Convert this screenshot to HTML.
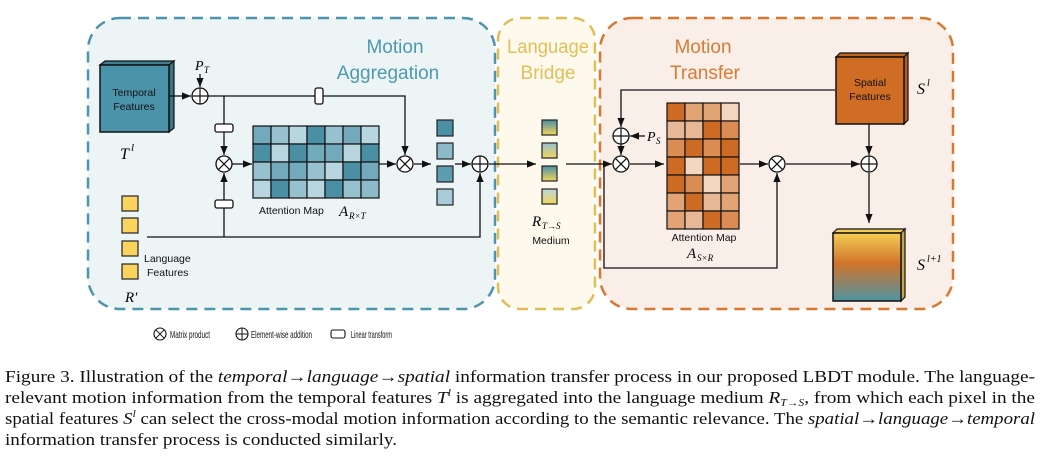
<!DOCTYPE html>
<html><head><meta charset="utf-8"><style>
body{margin:0;background:#fff;width:1043px;height:457px;overflow:hidden}
svg text{font-family:"Liberation Sans",sans-serif}
svg text.s,svg .s{font-family:"Liberation Serif",serif;font-style:italic}
svg .c text,svg .c tspan{font-family:"Liberation Serif",serif}
</style></head><body>
<svg width="1043" height="457" viewBox="0 0 1043 457" xmlns="http://www.w3.org/2000/svg">
<defs>
<marker id="a" viewBox="0 0 10 10" refX="10" refY="5" markerWidth="7" markerHeight="7" orient="auto"><path d="M0,1 L10,5 L0,9z" fill="#111"/></marker>
<linearGradient id="gm1" x1="0" y1="0" x2="0" y2="1"><stop offset="0" stop-color="#4a8fa3"/><stop offset="1" stop-color="#f3d55c"/></linearGradient>
<linearGradient id="gm2" x1="0" y1="0" x2="0" y2="1"><stop offset="0" stop-color="#97c1cf"/><stop offset="1" stop-color="#f3d55c"/></linearGradient>
<linearGradient id="gm3" x1="0" y1="0" x2="0" y2="1"><stop offset="0" stop-color="#4a8fa3"/><stop offset="1" stop-color="#f3d55c"/></linearGradient>
<linearGradient id="gm4" x1="0" y1="0" x2="0" y2="1"><stop offset="0" stop-color="#b7d6df"/><stop offset="1" stop-color="#f3d55c"/></linearGradient>
<linearGradient id="go" x1="0" y1="0" x2="0" y2="1"><stop offset="0" stop-color="#f5cd55"/><stop offset="0.45" stop-color="#d0732b"/><stop offset="1" stop-color="#4f94a3"/></linearGradient>
</defs>
<rect x="88" y="18" width="407" height="291" rx="32" fill="#edf4f6" stroke="#4c95ad" stroke-width="2.5" stroke-dasharray="11,7"/>
<rect x="498" y="18" width="97" height="291" rx="22" fill="#fdf9ec" stroke="#e1bd55" stroke-width="2.5" stroke-dasharray="11,7"/>
<rect x="600" y="18" width="353" height="291" rx="32" fill="#f9efe8" stroke="#d8772f" stroke-width="2.5" stroke-dasharray="11,7"/>
<text x="395" y="53" font-size="19" fill="#4c9ab0" text-anchor="middle">Motion</text>
<text x="388" y="79" font-size="19" fill="#4c9ab0" text-anchor="middle">Aggregation</text>
<text x="548" y="53" font-size="19" fill="#e2bf57" text-anchor="middle" textLength="82" lengthAdjust="spacingAndGlyphs">Language</text>
<text x="548" y="79" font-size="19" fill="#e2bf57" text-anchor="middle">Bridge</text>
<text x="703" y="53" font-size="19" fill="#da7a33" text-anchor="middle">Motion</text>
<text x="705" y="79" font-size="19" fill="#da7a33" text-anchor="middle">Transfer</text>
<path d="M100,65 L105,61 L174,61 L169,65z" fill="#3f7f92" stroke="#111" stroke-width="1.2"/>
<path d="M169,65 L174,61 L174,128 L169,132z" fill="#3a7486" stroke="#111" stroke-width="1.2"/>
<rect x="100" y="65" width="69" height="67" fill="#4b93a8" stroke="#111" stroke-width="1.5"/>
<text x="134" y="96" font-size="10.5" text-anchor="middle" fill="#111">Temporal</text>
<text x="134" y="110" font-size="10.5" text-anchor="middle" fill="#111">Features</text>
<text x="120" y="159" class="s" font-size="16">T</text><text x="131" y="151" class="s" font-size="11">l</text>
<g stroke="#111" stroke-width="1.3" fill="none">
<line x1="169" y1="96" x2="191" y2="96" marker-end="url(#a)"/>
<line x1="200" y1="74" x2="200" y2="87" marker-end="url(#a)"/>
<polyline points="208,96 405,96 405,155" marker-end="url(#a)"/>
<line x1="224" y1="96" x2="224" y2="155" marker-end="url(#a)"/>
<line x1="224" y1="237" x2="224" y2="173" marker-end="url(#a)"/>
<line x1="232" y1="164" x2="252" y2="164" marker-end="url(#a)"/>
<line x1="379" y1="164" x2="396" y2="164" marker-end="url(#a)"/>
<line x1="414" y1="164" x2="431" y2="164" marker-end="url(#a)"/>
<line x1="455" y1="164" x2="471" y2="164" marker-end="url(#a)"/>
<polyline points="147,237 480,237 480,173" marker-end="url(#a)"/>
<line x1="489" y1="164" x2="536" y2="164" marker-end="url(#a)"/>
<line x1="566" y1="164" x2="612" y2="164" marker-end="url(#a)"/>
<polyline points="835,90 621,90 621,127" marker-end="url(#a)"/>
<line x1="645" y1="136" x2="630" y2="136" marker-end="url(#a)"/>
<line x1="621" y1="144" x2="621" y2="155" marker-end="url(#a)"/>
<line x1="630" y1="164" x2="664" y2="164" marker-end="url(#a)"/>
<line x1="740" y1="164" x2="768" y2="164" marker-end="url(#a)"/>
<polyline points="604,164 604,268 777,268 777,173" marker-end="url(#a)"/>
<line x1="786" y1="164" x2="860" y2="164" marker-end="url(#a)"/>
<line x1="869" y1="124" x2="869" y2="155" marker-end="url(#a)"/>
<line x1="869" y1="173" x2="869" y2="223" marker-end="url(#a)"/>
</g>
<g fill="#fff" stroke="#111" stroke-width="1.3">
<rect x="315" y="88" width="8" height="16" rx="2"/>
<rect x="215" y="124" width="18" height="8" rx="2"/>
<rect x="215" y="200" width="18" height="8" rx="2"/>
</g>
<g fill="#fff" stroke="#111" stroke-width="1.3">
<circle cx="200" cy="96" r="8"/><circle cx="224" cy="164" r="8"/><circle cx="405" cy="164" r="8"/><circle cx="480" cy="164" r="8"/>
<circle cx="621" cy="136" r="8"/><circle cx="621" cy="164" r="8"/><circle cx="777" cy="164" r="8"/><circle cx="869" cy="164" r="8"/>
</g>
<g stroke="#111" stroke-width="1.2">
<path d="M192,96h16M200,88v16"/><path d="M472,164h16M480,156v16"/><path d="M613,136h16M621,128v16"/><path d="M861,164h16M869,156v16"/>
<path d="M218.3,158.3l11.4,11.4M229.7,158.3l-11.4,11.4"/>
<path d="M399.3,158.3l11.4,11.4M410.7,158.3l-11.4,11.4"/>
<path d="M615.3,158.3l11.4,11.4M626.7,158.3l-11.4,11.4"/>
<path d="M771.3,158.3l11.4,11.4M782.7,158.3l-11.4,11.4"/>
</g>
<text x="195" y="70" class="s" font-size="14">P</text><text x="204" y="73" class="s" font-size="9">T</text>
<text x="647" y="141" class="s" font-size="14">P</text><text x="656" y="144" class="s" font-size="9">S</text>
<g stroke="#111" stroke-width="1.2">
<rect x="253" y="126" width="18" height="18" fill="#72aabb"/><rect x="271" y="126" width="18" height="18" fill="#97c1cf"/><rect x="289" y="126" width="18" height="18" fill="#b7d6df"/><rect x="307" y="126" width="18" height="18" fill="#4a8fa3"/><rect x="325" y="126" width="18" height="18" fill="#97c1cf"/><rect x="343" y="126" width="18" height="18" fill="#72aabb"/><rect x="361" y="126" width="18" height="18" fill="#b7d6df"/>
<rect x="253" y="144" width="18" height="18" fill="#4a8fa3"/><rect x="271" y="144" width="18" height="18" fill="#b7d6df"/><rect x="289" y="144" width="18" height="18" fill="#4a8fa3"/><rect x="307" y="144" width="18" height="18" fill="#72aabb"/><rect x="325" y="144" width="18" height="18" fill="#72aabb"/><rect x="343" y="144" width="18" height="18" fill="#b7d6df"/><rect x="361" y="144" width="18" height="18" fill="#4a8fa3"/>
<rect x="253" y="162" width="18" height="18" fill="#97c1cf"/><rect x="271" y="162" width="18" height="18" fill="#72aabb"/><rect x="289" y="162" width="18" height="18" fill="#72aabb"/><rect x="307" y="162" width="18" height="18" fill="#97c1cf"/><rect x="325" y="162" width="18" height="18" fill="#b7d6df"/><rect x="343" y="162" width="18" height="18" fill="#4a8fa3"/><rect x="361" y="162" width="18" height="18" fill="#72aabb"/>
<rect x="253" y="180" width="18" height="18" fill="#b7d6df"/><rect x="271" y="180" width="18" height="18" fill="#4a8fa3"/><rect x="289" y="180" width="18" height="18" fill="#97c1cf"/><rect x="307" y="180" width="18" height="18" fill="#b7d6df"/><rect x="325" y="180" width="18" height="18" fill="#4a8fa3"/><rect x="343" y="180" width="18" height="18" fill="#97c1cf"/><rect x="361" y="180" width="18" height="18" fill="#8dbac9"/>
</g>
<text x="259" y="214" font-size="10.5" fill="#111">Attention Map</text>
<text x="339" y="216" class="s" font-size="15">A</text><text x="349" y="219" class="s" font-size="9">R×T</text>
<g stroke="#222" stroke-width="1.2">
<rect x="437" y="120" width="16" height="16" fill="#4a8fa3"/><rect x="437" y="143" width="16" height="16" fill="#8dbac9"/><rect x="437" y="166" width="16" height="16" fill="#5e9db0"/><rect x="437" y="189" width="16" height="16" fill="#a9cdd8"/>
</g>
<g stroke="#222" stroke-width="1.2" fill="#fad45f">
<rect x="122" y="196" width="16" height="15"/><rect x="122" y="218" width="16" height="15"/><rect x="122" y="241" width="16" height="15"/><rect x="122" y="264" width="16" height="15"/>
</g>
<text x="144" y="262" font-size="10.5" fill="#111">Language</text>
<text x="147" y="276" font-size="10.5" fill="#111">Features</text>
<text x="125" y="302" class="s" font-size="15">R′</text>
<g stroke="#222" stroke-width="1.2">
<rect x="542" y="120" width="15" height="15" fill="url(#gm1)"/><rect x="542" y="143" width="15" height="15" fill="url(#gm2)"/><rect x="542" y="166" width="15" height="15" fill="url(#gm3)"/><rect x="542" y="189" width="15" height="15" fill="url(#gm4)"/>
</g>
<text x="532" y="226" class="s" font-size="15">R</text><text x="542" y="229" class="s" font-size="9">T→S</text>
<text x="551" y="244" font-size="10.5" text-anchor="middle" fill="#111">Medium</text>
<g stroke="#111" stroke-width="1.2">
<rect x="667" y="103" width="18" height="18" fill="#cd6b24"/><rect x="685" y="103" width="18" height="18" fill="#e2a475"/><rect x="703" y="103" width="18" height="18" fill="#e2a475"/><rect x="721" y="103" width="18" height="18" fill="#f2d6bf"/>
<rect x="667" y="121" width="18" height="18" fill="#e8b896"/><rect x="685" y="121" width="18" height="18" fill="#e8b896"/><rect x="703" y="121" width="18" height="18" fill="#cd6b24"/><rect x="721" y="121" width="18" height="18" fill="#db8c52"/>
<rect x="667" y="139" width="18" height="18" fill="#db8c52"/><rect x="685" y="139" width="18" height="18" fill="#cd6b24"/><rect x="703" y="139" width="18" height="18" fill="#db8c52"/><rect x="721" y="139" width="18" height="18" fill="#cd6b24"/>
<rect x="667" y="157" width="18" height="18" fill="#cd6b24"/><rect x="685" y="157" width="18" height="18" fill="#f2d6bf"/><rect x="703" y="157" width="18" height="18" fill="#cd6b24"/><rect x="721" y="157" width="18" height="18" fill="#cd6b24"/>
<rect x="667" y="175" width="18" height="18" fill="#cd6b24"/><rect x="685" y="175" width="18" height="18" fill="#db8c52"/><rect x="703" y="175" width="18" height="18" fill="#f2d6bf"/><rect x="721" y="175" width="18" height="18" fill="#e2a475"/>
<rect x="667" y="193" width="18" height="18" fill="#e2a475"/><rect x="685" y="193" width="18" height="18" fill="#cd6b24"/><rect x="703" y="193" width="18" height="18" fill="#e8b896"/><rect x="721" y="193" width="18" height="18" fill="#e2a475"/>
<rect x="667" y="211" width="18" height="18" fill="#e2a475"/><rect x="685" y="211" width="18" height="18" fill="#e8b896"/><rect x="703" y="211" width="18" height="18" fill="#cd6b24"/><rect x="721" y="211" width="18" height="18" fill="#db8c52"/>
</g>
<text x="704" y="241" font-size="10.5" text-anchor="middle" fill="#111">Attention Map</text>
<text x="687" y="258" class="s" font-size="15">A</text><text x="697" y="261" class="s" font-size="9">S×R</text>
<path d="M836,57 L840,53 L908,53 L904,57z" fill="#c2651f" stroke="#111" stroke-width="1.2"/>
<path d="M904,57 L908,53 L908,120 L904,124z" fill="#b45d1c" stroke="#111" stroke-width="1.2"/>
<rect x="836" y="57" width="68" height="67" fill="#cf6d25" stroke="#111" stroke-width="1.5"/>
<text x="870" y="86" font-size="10.5" text-anchor="middle" fill="#111">Spatial</text>
<text x="870" y="100" font-size="10.5" text-anchor="middle" fill="#111">Features</text>
<text x="917" y="94" class="s" font-size="16">S</text><text x="927" y="86" class="s" font-size="10">l</text>
<path d="M833,233 L837,229 L905,229 L901,233z" fill="#f3cd58" stroke="#111" stroke-width="1.2"/>
<path d="M901,233 L905,229 L905,297 L901,301z" fill="#c9a64a" stroke="#111" stroke-width="1.2"/>
<rect x="833" y="233" width="68" height="68" fill="url(#go)" stroke="#111" stroke-width="1.5"/>
<text x="917" y="270" class="s" font-size="16">S</text><text x="927" y="262" class="s" font-size="10">l+1</text>
<g fill="#fff" stroke="#111" stroke-width="1.1">
<circle cx="160" cy="334" r="6"/><circle cx="242" cy="334" r="6"/><rect x="331" y="330" width="14" height="8" rx="2"/>
</g>
<path d="M155.8,329.8l8.4,8.4M164.2,329.8l-8.4,8.4M236,334h12M242,328v12" stroke="#111" stroke-width="1"/>
<text x="170" y="338" font-size="10.5" fill="#111" textLength="40" lengthAdjust="spacingAndGlyphs">Matrix product</text>
<text x="251" y="338" font-size="10.5" fill="#111" textLength="61" lengthAdjust="spacingAndGlyphs">Element-wise addition</text>
<text x="351" y="338" font-size="10.5" fill="#111" textLength="41" lengthAdjust="spacingAndGlyphs">Linear transform</text>
<g class="c" font-size="16.5" fill="#111">
<text x="5" y="382" textLength="1030" lengthAdjust="spacingAndGlyphs">Figure 3.  Illustration of the <tspan font-style="italic">temporal→language→spatial</tspan> information transfer process in our proposed LBDT module.  The language-</text>
<text x="5" y="403" textLength="1030" lengthAdjust="spacingAndGlyphs">relevant motion information from the temporal features <tspan font-style="italic">T</tspan><tspan font-size="10" dy="-7" font-style="italic">l</tspan><tspan dy="7"> is aggregated into the language medium </tspan><tspan font-style="italic">R</tspan><tspan font-size="10" dy="3" font-style="italic">T→S</tspan><tspan dy="-3">, from which each pixel in the</tspan></text>
<text x="5" y="424" textLength="1030" lengthAdjust="spacingAndGlyphs">spatial features <tspan font-style="italic">S</tspan><tspan font-size="10" dy="-7" font-style="italic">l</tspan><tspan dy="7"> can select the cross-modal motion information according to the semantic relevance. The </tspan><tspan font-style="italic">spatial→language→temporal</tspan></text>
<text x="5" y="445" textLength="392" lengthAdjust="spacingAndGlyphs">information transfer process is conducted similarly.</text>
</g>
</svg>
</body></html>
